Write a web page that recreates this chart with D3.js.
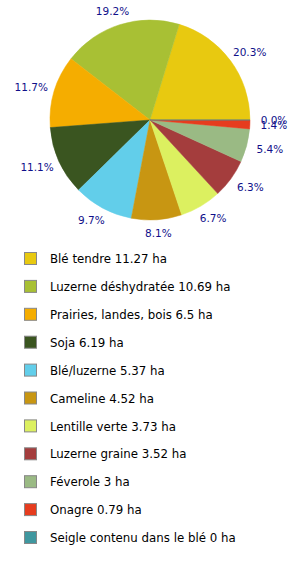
<!DOCTYPE html>
<html>
<head>
<meta charset="utf-8">
<script src="https://cdn.jsdelivr.net/npm/d3@7"></script>
<style>
  body { margin: 0; background: #fff; }
  text { font-family: "DejaVu Sans", sans-serif; }
</style>
</head>
<body>
<div id="chart"></div>
<script>
// Surfaces par culture (ha)
let cultures = [
    "Blé tendre",
    "Luzerne déshydratée",
    "Prairies, landes, bois",
    "Soja",
    "Blé/luzerne",
    "Cameline",
    "Lentille verte",
    "Luzerne graine",
    "Féverole",
    "Onagre",
    "Seigle contenu dans le blé"
];
let surfaces = [11.27, 10.69, 6.5, 6.19, 5.37, 4.52, 3.73, 3.52, 3, 0.79, 0];
let couleurs = [
    "#e8c910", "#a8c034", "#f5ad00", "#3a5520", "#62ceea", "#c89612",
    "#dcf060", "#a43d3d", "#9aba84", "#e63c1e", "#3f979f"
];

let width = 300,
    height = 578,
    cx = 150,
    cy = 120,
    radius = 100,
    // labels sit a bit further out sideways than up/down
    labelRx = 124,
    labelRy = 114;

let data = cultures.map(function (c, i) {
    return { name: c, value: surfaces[i], color: couleurs[i] };
});
let total = d3.sum(surfaces);

let svg = d3.select("#chart").append("svg")
    .attr("width", width)
    .attr("height", height);

// Counterclockwise from 3 o'clock
let pie = d3.pie()
    .sort(null)
    .startAngle(Math.PI / 2)
    .endAngle(Math.PI / 2 - 2 * Math.PI)
    .value(function (d) { return d.value; });

let arc = d3.arc().innerRadius(0).outerRadius(radius);

let g = svg.append("g")
    .attr("transform", "translate(" + cx + "," + cy + ")");

let arcs = pie(data);

g.selectAll(".slice")
    .data(arcs)
    .enter().append("path")
    .attr("class", "slice")
    .attr("d", arc)
    .style("fill", function (d) { return d.data.color; })
    .style("stroke", function (d) { return d.data.color; })
    .style("stroke-width", 0.5);

g.selectAll(".label")
    .data(arcs)
    .enter().append("text")
    .attr("class", "label")
    .attr("transform", function (d) {
        let a = (d.startAngle + d.endAngle) / 2;
        return "translate(" + (labelRx * Math.sin(a)) + "," + (-labelRy * Math.cos(a)) + ")";
    })
    .attr("text-anchor", "middle")
    .attr("dy", "0.35em")
    .style("font-size", "10.5px")
    .style("fill", "#10108a")
    .text(function (d) {
        return (d.data.value / total * 100).toFixed(1) + "%";
    });

// Legend
let y = d3.scalePoint()
    .domain(cultures)
    .range([259, 538]);

let legend = svg.selectAll(".legend")
    .data(data)
    .enter().append("g")
    .attr("class", "legend")
    .attr("transform", function (d) { return "translate(0," + y(d.name) + ")"; });

legend.append("rect")
    .attr("x", 24.5)
    .attr("y", -6.5)
    .attr("width", 12)
    .attr("height", 12)
    .style("fill", function (d) { return d.color; })
    .style("stroke", "#888")
    .style("stroke-width", 1);

legend.append("text")
    .attr("x", 50)
    .attr("dy", "0.35em")
    .style("font-size", "11.8px")
    .style("fill", "#000")
    .text(function (d) { return d.name + " " + d.value + " ha"; });
</script>
</body>
</html>
